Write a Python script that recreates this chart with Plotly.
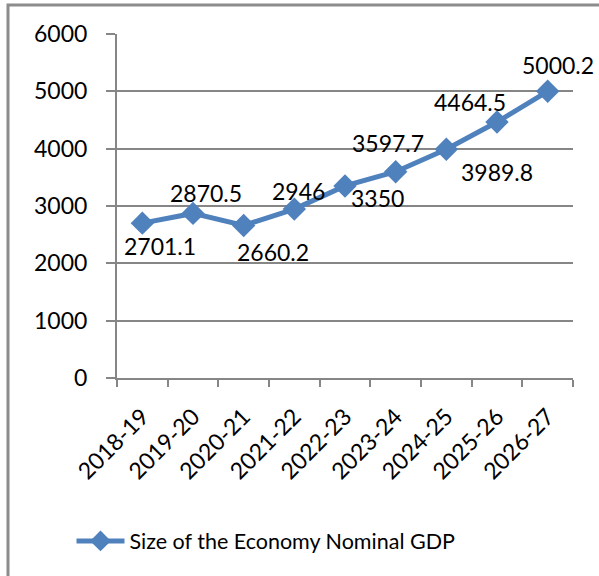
import plotly.graph_objects as go

years = ["2018-19", "2019-20", "2020-21", "2021-22", "2022-23",
         "2023-24", "2024-25", "2025-26", "2026-27"]
gdp = [2701.1, 2870.5, 2660.2, 2946, 3350, 3597.7, 3989.8, 4464.5, 5000.2]
series_name = "Size of the Economy Nominal GDP"

# manual data-label offsets (pixels, x right / y up) as in the source chart
label_dx = [18, 13, 29, 4, 32, -8, 51, -27, 10]
label_dy = [-23, 20, -27, 18, -12, 29, -23, 20, 26]

FONT = "Lato"
GRAY = "#868686"
BLUE = "#4F81BD"
NUM = 23

fig = go.Figure()
fig.add_trace(go.Scatter(
    x=years, y=gdp, mode="lines+markers", name=series_name,
    line=dict(color=BLUE, width=5),
    marker=dict(symbol="diamond", size=18, color=BLUE),
    cliponaxis=False,
))

for yr, v, dx, dy in zip(years, gdp, label_dx, label_dy):
    fig.add_annotation(x=yr, y=v, text=f"{v:g}", showarrow=False,
                       xshift=dx, yshift=dy,
                       font=dict(family=FONT, size=NUM, color="#000000"))

L, R, T, B = 117, 26, 34, 198
W, H = 599, 576
pw, ph = W - L - R, H - T - B

fig.update_layout(
    width=W, height=H,
    margin=dict(l=L, r=R, t=T, b=B, pad=0),
    paper_bgcolor="white", plot_bgcolor="white",
    font=dict(family=FONT, size=21, color="#000000"),
    showlegend=True,
    legend=dict(orientation="h", x=(266 - L) / pw, xanchor="center",
                y=(378 - 541) / ph, yanchor="middle",
                font=dict(family=FONT, size=21.5), itemwidth=48),
    xaxis=dict(range=[-0.5, len(years) - 0.5], showgrid=False,
               showline=True, linecolor=GRAY, linewidth=2,
               ticks="outside", ticklen=7, tickcolor=GRAY, tickwidth=2,
               tickson="boundaries", tickangle=-45, ticklabelstandoff=14,
               tickfont=dict(family=FONT, size=NUM)),
    yaxis=dict(range=[0, 6000], dtick=1000, showgrid=True, gridcolor=GRAY,
               gridwidth=2, showline=True, linecolor=GRAY, linewidth=2,
               ticks="outside", ticklen=9, tickcolor=GRAY, tickwidth=2,
               ticklabelstandoff=14,
               zeroline=False, tickfont=dict(family=FONT, size=NUM)),
)

# outer chart frame (partially outside the image)
fig.add_shape(type="rect", xref="paper", yref="paper",
              x0=(8 - L) / pw, x1=1.5, y0=-1.5, y1=1 + (T - 5) / ph,
              line=dict(color="#8C8C8C", width=3), layer="below")

fig.write_html("out.html")
